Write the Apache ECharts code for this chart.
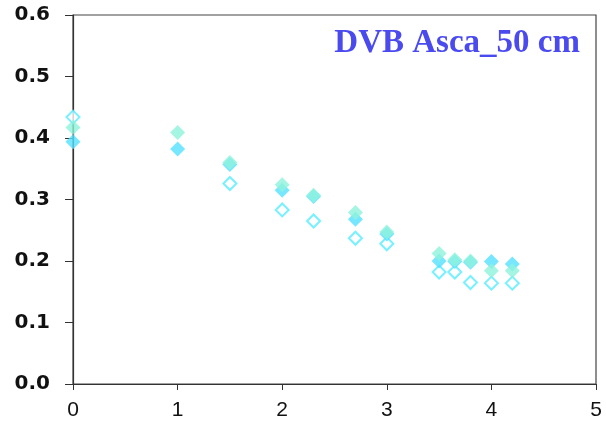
<!DOCTYPE html>
<html>
<head>
<meta charset="utf-8">
<script src="https://cdn.jsdelivr.net/npm/echarts@6/dist/echarts.min.js"></script>
<style>
html,body{margin:0;padding:0;background:#fff;}
#chart{width:606px;height:430px;}
</style>
</head>
<body>
<div id="chart"></div>
<script>
var titleText = "DVB Asca_50 cm";
var xTicks = [0, 1, 2, 3, 4, 5];
var yTicks = [0, 0.1, 0.2, 0.3, 0.4, 0.5, 0.6];

var cyanX = [0, 1, 1.5, 2, 2.3, 2.7, 3, 3.5, 3.65, 3.8, 4, 4.2];
var cyanY = [0.394, 0.382, 0.357, 0.315, 0.305, 0.268, 0.244, 0.200, 0.199, 0.198, 0.199, 0.195];

var aquaX = [0, 1, 1.5, 2, 2.3, 2.7, 3, 3.5, 3.65, 3.8, 4, 4.2];
var aquaY = [0.417, 0.409, 0.360, 0.324, 0.307, 0.279, 0.247, 0.212, 0.202, 0.200, 0.184, 0.184];

var hollowX = [0, 1.5, 2, 2.3, 2.7, 3, 3.5, 3.65, 3.8, 4, 4.2];
var hollowY = [0.434, 0.326, 0.283, 0.265, 0.237, 0.228, 0.182, 0.182, 0.165, 0.164, 0.164];

function pairs(xs, ys) { return xs.map(function (x, i) { return [x, ys[i]]; }); }

var chart = echarts.init(document.getElementById('chart'), null, {renderer: 'canvas'});
chart.setOption({
  animation: false,
  backgroundColor: '#ffffff',
  title: {
    text: titleText,
    right: 21,
    top: 22,
    textStyle: {fontFamily: 'Liberation Serif', fontWeight: 'bold', fontSize: 33, color: '#4a4aee'}
  },
  grid: {left: 73, right: 10, top: 15, bottom: 46, show: true, borderColor: '#444', borderWidth: 1.2, backgroundColor: 'transparent'},
  xAxis: {
    type: 'value', min: xTicks[0], max: xTicks[xTicks.length - 1], interval: 1,
    axisLine: {show: true, onZero: false, lineStyle: {color: '#333', width: 1.2}},
    axisTick: {show: true, length: 6, lineStyle: {color: '#333'}},
    splitLine: {show: false},
    axisLabel: {fontFamily: 'Liberation Sans', fontSize: 21, color: '#111', margin: 16}
  },
  yAxis: {
    type: 'value', min: yTicks[0], max: yTicks[yTicks.length - 1], interval: 0.1,
    axisLine: {show: true, onZero: false, lineStyle: {color: '#333', width: 1.2}},
    axisTick: {show: true, length: 8, lineStyle: {color: '#333'}},
    splitLine: {show: false},
    axisLabel: {fontFamily: 'DejaVu Sans', fontWeight: 'bold', fontSize: 20, color: '#111', margin: 23,
      formatter: function (v) { return v.toFixed(1); }}
  },
  series: [
    {type: 'scatter', name: 'hollow', data: pairs(hollowX, hollowY), symbol: 'emptyDiamond', symbolSize: [13, 13],
      itemStyle: {color: '#55ecff', borderColor: '#55ecff', borderWidth: 2}},
    {type: 'scatter', name: 'cyan', data: pairs(cyanX, cyanY), symbol: 'diamond', symbolSize: [15, 15],
      itemStyle: {color: '#55e0ff'}},
    {type: 'scatter', name: 'aqua', data: pairs(aquaX, aquaY), symbol: 'diamond', symbolSize: [15, 15],
      itemStyle: {color: '#8ff3dc'}}
  ]
});
</script>
</body>
</html>
